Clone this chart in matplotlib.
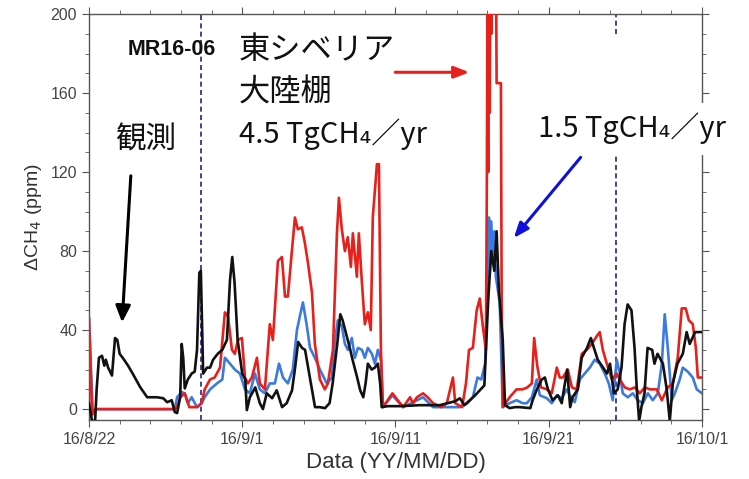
import matplotlib.pyplot as plt
from matplotlib.ticker import MultipleLocator

plt.rcParams['font.family'] = ['Liberation Sans', 'DejaVu Sans']

# 観測値と2つの放出シナリオ (日数は 16/8/22 からの経過日)
obs_day = [0.0, 0.2, 0.4, 0.5, 0.65, 0.85, 1.0, 1.1, 1.25, 1.5, 1.7, 1.85, 2.0, 2.2, 2.55,
           2.85, 3.35, 3.8, 4.45, 4.85, 5.1, 5.4, 5.6, 5.75, 5.95, 6.05, 6.15, 6.25, 6.45,
           6.7, 6.9, 7.05, 7.2, 7.3, 7.45, 7.7, 7.9, 8.1, 8.4, 8.7, 9.0, 9.2, 9.35, 9.5,
           9.7, 10.0, 10.2, 10.3, 10.5, 10.85, 11.15, 11.35, 11.6, 11.95, 12.25, 12.6,
           12.9, 13.25, 13.45, 13.65, 13.9, 14.1, 14.3, 14.55, 14.75, 15.05, 15.4, 15.7,
           15.9, 16.2, 16.4, 16.55, 16.85, 17.05, 17.2, 17.5, 17.7, 17.9, 18.05, 18.2,
           18.45, 18.65, 18.85, 19.0, 19.1, 19.5, 20.3, 21.6, 22.9, 23.9, 24.2, 24.5,
           24.85, 25.2, 25.5, 25.8, 26.05, 26.25, 26.45, 26.6, 26.75, 27.0, 27.15, 27.45,
           27.8, 28.1, 28.8, 28.95, 29.2, 29.55, 29.75, 29.95, 30.25, 30.6, 30.85, 31.2,
           31.4, 31.55, 31.9, 32.15, 32.5, 32.75, 32.95, 33.2, 33.55, 33.8, 34.0, 34.25,
           34.5, 34.75, 34.95, 35.15, 35.4, 35.6, 35.75, 35.9, 36.05, 36.25, 36.45, 36.75,
           36.9, 37.1, 37.45, 37.7, 37.9, 38.1, 38.4, 38.75, 39.0, 39.2, 39.55, 40.0]
obs_ch4 = [3, -6, -6, 10, 26, 27, 22, 25, 21, 17, 36, 35, 28, 26, 22,
           18, 11, 6, 6, 5.5, 3.5, 4.5, -1.5, -2, 6, 33, 26, 10.5, 15,
           18, 19, 30, 69, 70, 18, 21, 21, 25, 28, 30, 35, 65, 77, 64,
           35, 18, 15, -0.5, 6, 11, 3, 0, 8, 5.5, 9.5, 1,
           3, 9.5, 21, 34, 31, 30, 21, 9.5, 1, 1, 0.5, 3,
           13, 33, 48, 45, 36, 30, 25, 16, 9.5, 6, 13, 23,
           20, 21, 23, 13, 1, 1.5, 1.5, 2, 2, 4, 5.5, 2,
           4.5, 7, 9.5, 12, 55, 80, 70, 90, 60, 35, 2, 0.5,
           1, 1, 0.5, 4.5, 9.5, 15, 16, 10, 4.5, 7, 3, 20,
           1, 6, 10, 26, 31, 36, 31, 25, 21, 18, 23, 8,
           10, 21, 43, 53, 50, 31, 10, -6, 1, 8, 31, 30,
           23, 28, 23, 10, -6, 13, 23, 28, 39, 33, 39, 39]

esas_day = [0.0, 0.2, 0.4, 5.6, 5.75, 5.95, 6.25, 6.55, 7.05, 7.35, 7.55, 7.9, 8.2, 8.55,
            8.87, 9.07, 9.33, 9.52, 9.72, 9.98, 10.18, 10.37, 10.63, 10.96, 11.15, 11.48,
            11.8, 12.0, 12.33, 12.59, 12.79, 12.98, 13.24, 13.44, 13.63, 13.89, 14.09,
            14.29, 14.55, 14.74, 15.07, 15.39, 15.59, 15.92, 16.18, 16.31, 16.5, 16.7,
            16.89, 17.09, 17.22, 17.48, 17.61, 17.81, 18.0, 18.2, 18.39, 18.52, 18.79,
            18.92, 19.05, 19.18, 19.8, 20.5, 20.95, 21.15, 21.4, 21.8, 22.1, 22.45, 23.0,
            23.35, 23.75, 23.9, 24.35, 24.6, 24.8, 25.05, 25.3, 25.5, 25.7, 25.9, 25.96,
            26.0, 26.05, 26.1, 26.15, 26.2, 26.25, 26.3, 26.55, 26.6, 26.88, 26.93, 27.0,
            27.45, 27.9, 28.3, 28.6, 28.9, 29.05, 29.25, 29.5, 29.88, 30.2, 30.53, 30.72,
            30.92, 31.25, 31.51, 31.83, 32.16, 32.49, 32.81, 33.14, 33.33, 33.53, 33.79,
            34.12, 34.44, 34.64, 34.96, 35.29, 35.62, 35.94, 36.27, 36.6, 37.05, 37.38,
            37.77, 38.1, 38.42, 38.68, 38.94, 39.14, 39.4, 39.6, 39.73, 40.0]
esas_ch4 = [46, -3, 0, 0, 1, 6, 8, 1, 1, 3, 10, 15, 16, 21,
            49, 47, 30, 28, 35, 36, 16, 13, 16, 26, 13, 10,
            43, 35, 75, 77, 57, 57, 80, 97, 91, 92, 84,
            74, 59, 33, 15, 10, 13, 30, 89, 107, 91, 80,
            87, 72, 89, 67, 89, 64, 43, 49, 40, 97, 124,
            124, 30, 1, 8, 1, 6, 3, 6, 8, 6, 3, 1,
            3, 16, 3, 1, 13, 30, 31, 50, 56, 42, 30, 110,
            200, 120, 240, 150, 240, 190, 240, 240, 165, 165, 55, 1,
            6, 10, 10, 11, 13, 36, 22, 11, 10, 8, 21, 16,
            16, 20, 11, 10, 28, 30, 33, 37, 39, 30, 23,
            15, 18, 15, 11, 10, 11, 8, 11, 10, 10, 4.5,
            11, 13, 26, 51, 51, 45, 43, 31, 16, 16]

low_day = [0.0, 0.25, 0.4, 5.6, 5.75, 6.05, 6.25, 6.45, 6.7, 7.05, 7.35, 7.55, 7.9, 8.35,
           8.7, 8.87, 9.2, 9.52, 9.85, 10.18, 10.5, 10.83, 11.15, 11.48, 11.8, 12.13,
           12.4, 12.66, 12.98, 13.3, 13.57, 13.76, 13.96, 14.22, 14.42, 14.74, 15.07,
           15.52, 15.85, 16.05, 16.24, 16.5, 16.7, 16.89, 17.15, 17.35, 17.55, 17.81,
           18.0, 18.2, 18.46, 18.66, 18.85, 19.05, 19.18, 19.8, 20.5, 21.8, 22.45, 23.35,
           24.2, 24.7, 25.05, 25.35, 25.6, 25.85, 26.0, 26.1, 26.15, 26.25, 26.35, 26.45,
           26.55, 26.65, 26.8, 27.0, 27.45, 27.9, 28.3, 28.57, 28.9, 29.22, 29.42, 29.88,
           30.2, 30.53, 30.85, 31.18, 31.38, 31.7, 32.03, 32.35, 32.68, 33.0, 33.33,
           33.66, 33.92, 34.18, 34.44, 34.64, 34.83, 35.16, 35.49, 35.81, 36.14, 36.47,
           36.79, 37.12, 37.38, 37.57, 37.77, 38.03, 38.23, 38.55, 38.75, 39.07, 39.4,
           39.66, 40.0]
low_ch4 = [46, -2, 0, 0, 6, 8.6, 8, 3, 6, 1, 3, 6, 10, 13,
           15, 26, 23, 20, 18, 10, 8, 18, 10, 8, 13, 13,
           23, 16, 13, 20, 40, 47, 54, 42, 31, 26, 20,
           13, 16, 35, 45, 42, 33, 30, 36, 26, 31, 30,
           26, 31, 28, 23, 30, 25, 1, 7, 1, 6, 1, 1,
           1, 3, 6, 16, 15, 23, 60, 97, 70, 95, 75, 90,
           67, 62, 54, 1, 3, 4.5, 3, 3, 6, 15, 7, 5.5,
           3, 7, 5.5, 10, 7, 3.5, 15, 18, 21, 25, 23,
           18, 13, 4.5, 25, 18, 8, 6, 8, 4.5, 3, 8,
           4.5, 8, 23, 48, 31, 4.5, 8, 15, 21, 19, 16,
           10, 8]

tick_days = [0, 10, 20, 30, 40]
tick_labels = ['16/8/22', '16/9/1', '16/9/11', '16/9/21', '16/10/1']
leg_days = [7.3, 34.4]

fig = plt.figure(figsize=(7.49, 4.79), dpi=100)
ax = fig.add_axes([0.1188, 0.1232, 0.8184, 0.8476])

ax.plot(low_day, low_ch4, color='#3b7ae0', lw=1.9, zorder=3)
ax.plot(esas_day, esas_ch4, color='#e8201c', lw=1.9, zorder=4)
ax.plot(obs_day, obs_ch4, color='#111111', lw=1.9, zorder=5)

# 航海区間の区切り
dash = dict(color='#22228a', lw=1.2, ls=(0, (3, 2)), zorder=2)
ax.plot([leg_days[0], leg_days[0]], [-5.5, 200], **dash)
ax.plot([leg_days[1], leg_days[1]], [-5.5, 130], **dash)
ax.plot([leg_days[1], leg_days[1]], [190, 200], **dash)

ax.set_xlim(0, 40)
ax.set_ylim(-5.5, 200)
ax.set_xticks(tick_days)
ax.set_xticklabels(tick_labels)
ax.xaxis.set_minor_locator(MultipleLocator(2))
ax.set_yticks([0, 40, 80, 120, 160, 200])
ax.yaxis.set_minor_locator(MultipleLocator(10))
ax.tick_params(which='both', direction='out', color='#555555', labelcolor='#444444',
               labelsize=11.5, top=True, right=True)
ax.tick_params(which='major', length=5)
ax.tick_params(which='minor', length=3)
for sp in ax.spines.values():
    sp.set_color('#555555')
    sp.set_linewidth(1.0)

ax.set_xlabel('Data (YY/MM/DD)', fontsize=16, color='#333333', labelpad=4)
ax.set_ylabel('ΔCH$_4$ (ppm)', fontsize=14, color='#333333', labelpad=5)

jp = ['Noto Sans CJK JP', 'DejaVu Sans']
ax.text(2.5, 182, 'MR16-06', fontsize=15.5, fontweight='bold', color='#111111',
        ha='left', va='center')
ax.text(1.7, 136, '観測', fontsize=22, family=jp, color='#111111', ha='left', va='center')
ax.text(9.8, 182, '東シベリア', fontsize=22.5, family=jp, color='#111111',
        ha='left', va='center')
ax.text(9.8, 160, '大陸棚', fontsize=22.5, family=jp, color='#111111', ha='left', va='center')
ax.text(9.8, 139, '4.5 TgCH₄／yr', fontsize=21, family=jp, color='#111111',
        ha='left', va='center')
ax.text(29.3, 142, '1.5 TgCH₄／yr', fontsize=21, family=jp, color='#111111',
        ha='left', va='center', zorder=6, clip_on=False,
        bbox=dict(boxstyle='square,pad=0.35', fc='white', ec='none'))

ax.annotate('', xy=(2.15, 42.5), xytext=(2.74, 119.5),
            arrowprops=dict(arrowstyle='-|>,head_width=0.45,head_length=1.0',
                            color='black', lw=2.2))
ax.annotate('', xy=(25.0, 170.5), xytext=(19.8, 170.5),
            arrowprops=dict(arrowstyle='-|>,head_width=0.35,head_length=0.9',
                            color='#e8201c', lw=2.2))
ax.annotate('', xy=(27.6, 85.5), xytext=(32.2, 128.5),
            arrowprops=dict(arrowstyle='-|>,head_width=0.35,head_length=0.9',
                            color='#1010dd', lw=2.2))

fig.savefig('out.png', dpi=100)
